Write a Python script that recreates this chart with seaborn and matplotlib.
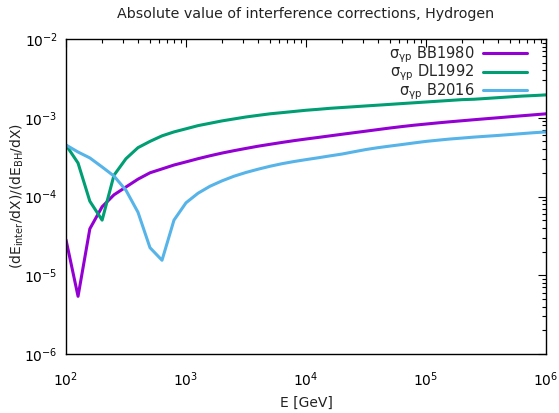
import matplotlib
matplotlib.use("Agg")
import matplotlib.pyplot as plt
import seaborn as sns
import pandas as pd
from matplotlib.ticker import LogLocator, NullFormatter

# Energy grid [GeV]
energy = [100, 126, 158, 200, 251, 316, 398, 501, 631, 794,
          1000, 1259, 1585, 1995, 2512, 3162, 3981, 5012, 6310, 7943,
          10000, 12589, 15849, 19953, 25119, 31623, 39811, 50119, 63096, 79433,
          100000, 125893, 158489, 199526, 251189, 316228, 398107, 501187, 630957, 794328,
          1000000]

bb1980 = [2.82e-5, 5.4e-6, 3.89e-5, 7.41e-5, 1.05e-4, 1.32e-4, 1.66e-4, 2.0e-4, 2.24e-4, 2.51e-4,
          2.75e-4, 3.02e-4, 3.29e-4, 3.56e-4, 3.82e-4, 4.08e-4, 4.35e-4, 4.60e-4, 4.86e-4, 5.12e-4,
          5.37e-4, 5.62e-4, 5.89e-4, 6.17e-4, 6.46e-4, 6.76e-4, 7.08e-4, 7.41e-4, 7.73e-4, 8.04e-4,
          8.32e-4, 8.61e-4, 8.89e-4, 9.16e-4, 9.44e-4, 9.72e-4, 1.0e-3, 1.03e-3, 1.06e-3, 1.09e-3,
          1.122e-3]

dl1992 = [4.51e-4, 2.66e-4, 8.71e-5, 5.01e-5, 1.86e-4, 3.02e-4, 4.17e-4, 5.01e-4, 5.89e-4, 6.61e-4,
          7.24e-4, 7.94e-4, 8.51e-4, 9.12e-4, 9.66e-4, 1.023e-3, 1.072e-3, 1.122e-3, 1.161e-3, 1.202e-3,
          1.245e-3, 1.279e-3, 1.318e-3, 1.349e-3, 1.380e-3, 1.413e-3, 1.445e-3, 1.479e-3, 1.514e-3, 1.549e-3,
          1.585e-3, 1.622e-3, 1.660e-3, 1.698e-3, 1.718e-3, 1.758e-3, 1.799e-3, 1.841e-3, 1.884e-3, 1.914e-3,
          1.950e-3]

b2016 = [4.51e-4, 3.67e-4, 3.09e-4, 2.37e-4, 1.82e-4, 1.20e-4, 6.31e-5, 2.24e-5, 1.55e-5, 5.01e-5,
         8.32e-5, 1.10e-4, 1.35e-4, 1.58e-4, 1.81e-4, 2.02e-4, 2.22e-4, 2.42e-4, 2.61e-4, 2.78e-4,
         2.94e-4, 3.10e-4, 3.28e-4, 3.46e-4, 3.70e-4, 3.95e-4, 4.17e-4, 4.37e-4, 4.57e-4, 4.79e-4,
         5.01e-4, 5.19e-4, 5.37e-4, 5.52e-4, 5.68e-4, 5.82e-4, 5.96e-4, 6.12e-4, 6.29e-4, 6.46e-4,
         6.61e-4]

labels = [r"σ$_{\mathregular{γp}}$ BB1980", r"σ$_{\mathregular{γp}}$ DL1992", r"σ$_{\mathregular{γp}}$ B2016"]
colors = ["#9400D3", "#009E73", "#56B4E9"]

rows = []
for lab, ys in zip(labels, [bb1980, dl1992, b2016]):
    for e, v in zip(energy, ys):
        rows.append({"E": e, "val": v, "series": lab})
df = pd.DataFrame(rows)

sns.set_theme(style="white")
plt.rcParams['font.family'] = ['DejaVu Sans']
plt.rcParams['mathtext.fontset'] = 'dejavusans'

fig = plt.figure(figsize=(5.59, 4.13), dpi=100)
ax = fig.add_axes([66/559, 1-354/413, 480/559, 315/413])

sns.lineplot(data=df, x="E", y="val", hue="series", hue_order=labels,
             palette=colors, linewidth=2.2, ax=ax, legend=True)

ax.set_xscale("log")
ax.set_yscale("log")
ax.set_xlim(1e2, 1e6)
ax.set_ylim(1e-6, 1e-2)

ax.xaxis.set_major_locator(LogLocator(base=10, numticks=10))
ax.xaxis.set_minor_locator(LogLocator(base=10, subs=range(2, 10), numticks=20))
ax.yaxis.set_major_locator(LogLocator(base=10, numticks=10))
ax.yaxis.set_minor_locator(LogLocator(base=10, subs=range(2, 10), numticks=20))
ax.xaxis.set_minor_formatter(NullFormatter())
ax.yaxis.set_minor_formatter(NullFormatter())

ax.tick_params(which="both", direction="in", top=True, right=True, colors="black",
               labelsize=10, width=0.8)
ax.tick_params(which="major", length=6)
ax.tick_params(axis="x", which="major", pad=12)
ax.tick_params(axis="y", which="major", pad=6)
ax.tick_params(which="minor", length=3)
for s in ax.spines.values():
    s.set_color("black")
    s.set_linewidth(1.0)

ax.set_xlabel("E [GeV]", fontsize=10, color="#222222", labelpad=5)
ax.set_ylabel(r"(dE$_{\mathregular{inter}}$/dX)/(dE$_{\mathregular{BH}}$/dX)", fontsize=10,
              color="#222222", labelpad=-1)
ax.set_title("Absolute value of interference corrections, Hydrogen", fontsize=10.3, pad=15,
             color="#222222")

leg = ax.legend(loc="upper right", bbox_to_anchor=(1 - 19/480, 1 - 5/315),
                frameon=False, markerfirst=False, fontsize=10.5,
                handlelength=3.0, handletextpad=0.6, labelspacing=-0.12,
                borderaxespad=0.0, borderpad=0.0)
for t in leg.get_texts():
    t.set_ha("right")
leg._legend_box.align = "right"

fig.savefig("out.png", dpi=100)
